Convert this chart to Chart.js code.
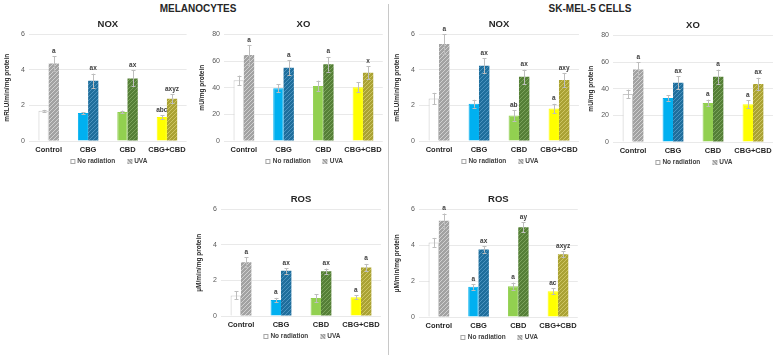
<!DOCTYPE html>
<html><head><meta charset="utf-8">
<script src="https://cdn.jsdelivr.net/npm/chart.js@4.4.1/dist/chart.umd.min.js"></script>
<style>
html,body{margin:0;padding:0;background:#fff;width:776px;height:355px;overflow:hidden;position:relative;font-family:'Liberation Sans',Arial,sans-serif}
.hdr{position:absolute;top:3px;line-height:12px;font-weight:bold;font-size:10px;color:#262626;transform:translateX(-50%);white-space:nowrap}
#divider{position:absolute;left:388px;top:4px;width:1px;height:351px;background:#c8c8c8}
canvas{position:absolute}
.lg{position:absolute;transform:translate(-50%,-50%);white-space:nowrap;font-weight:bold;font-size:6.5px;line-height:8px;color:#404040;display:flex;align-items:center}
.lg .it{display:flex;align-items:center}
.lg .it + .it{margin-left:12px}
.lg .bx{display:inline-block;width:5px;height:5px;box-sizing:border-box;margin-right:2px}
</style></head><body>
<div class="hdr" style="left:198px">MELANOCYTES</div>
<div class="hdr" style="left:590px">SK-MEL-5 CELLS</div>
<div id="divider"></div>
<canvas id="c1"></canvas><canvas id="c2"></canvas><canvas id="c3"></canvas>
<canvas id="c4"></canvas><canvas id="c5"></canvas><canvas id="c6"></canvas>
<script>
// ---------- DATA ----------
const categories = ['Control', 'CBG', 'CBD', 'CBG+CBD'];
const seriesNames = ['No radiation', 'UVA'];

// Melanocytes NOX
const melNoxNR = [1.70, 1.57, 1.63, 1.35];
const melNoxNRErr = [0.05, 0.05, 0.08, 0.10];
const melNoxNRLetters = ['', '', '', 'abc'];
const melNoxUVA = [4.36, 3.39, 3.52, 2.38];
const melNoxUVAErr = [0.42, 0.40, 0.45, 0.26];
const melNoxUVALetters = ['a', 'ax', 'ax', 'axyz'];

// Melanocytes XO
const melXoNR = [45.6, 39.6, 41.3, 40.4];
const melXoNRErr = [3.5, 3.0, 4.0, 3.7];
const melXoNRLetters = ['', '', '', ''];
const melXoUVA = [64.5, 55.0, 57.6, 51.3];
const melXoUVAErr = [7.5, 5.5, 5.5, 4.7];
const melXoUVALetters = ['a', 'a', 'a', 'x'];

// SK-MEL-5 NOX
const skNoxNR = [2.39, 2.10, 1.44, 1.83];
const skNoxNRErr = [0.32, 0.22, 0.30, 0.26];
const skNoxNRLetters = ['', '', 'ab', 'a'];
const skNoxUVA = [5.46, 4.23, 3.61, 3.43];
const skNoxUVAErr = [0.56, 0.43, 0.40, 0.40];
const skNoxUVALetters = ['a', 'ax', 'ax', 'axy'];

// SK-MEL-5 XO
const skXoNR = [36.0, 33.0, 29.3, 28.3];
const skXoNRErr = [3.3, 2.0, 2.5, 3.0];
const skXoNRLetters = ['', '', 'a', 'a'];
const skXoUVA = [54.5, 44.5, 49.0, 43.5];
const skXoUVAErr = [5.5, 4.8, 5.3, 4.7];
const skXoUVALetters = ['a', 'ax', 'a', 'ax'];

// Melanocytes ROS
const melRosNR = [1.16, 0.90, 1.01, 1.05];
const melRosNRErr = [0.22, 0.12, 0.22, 0.12];
const melRosNRLetters = ['', 'a', '', 'a'];
const melRosUVA = [3.03, 2.54, 2.52, 2.73];
const melRosUVAErr = [0.28, 0.15, 0.15, 0.20];
const melRosUVALetters = ['a', 'ax', 'ax', 'a'];

// SK-MEL-5 ROS
const skRosNR = [4.16, 1.68, 1.72, 1.44];
const skRosNRErr = [0.25, 0.16, 0.20, 0.16];
const skRosNRLetters = ['', 'a', 'a', 'ac'];
const skRosUVA = [5.37, 3.77, 5.01, 3.50];
const skRosUVAErr = [0.40, 0.18, 0.27, 0.17];
const skRosUVALetters = ['a', 'ax', 'ay', 'axyz'];

// ---------- STYLE ----------
const FONT = "'Liberation Sans', Arial, sans-serif";
Chart.defaults.font.family = FONT;
Chart.defaults.color = '#404040';

const nrFill = ['#ffffff', '#00b0f0', '#92d050', '#ffff00'];
const nrBorder = ['#c8c8c8', '#00b0f0', '#92d050', '#ffff00'];
const uvaBase = ['#a2a2a2', '#1f6e9c', '#557f37', '#aaa234'];
const uvaStripe = ['#d0d0d0', '#4b93bf', '#7aa25b', '#cdc562'];

function hatch(base, stripe) {
  const c = document.createElement('canvas');
  c.width = 4; c.height = 4;
  const g = c.getContext('2d');
  g.fillStyle = base; g.fillRect(0, 0, 4, 4);
  g.strokeStyle = stripe; g.lineWidth = 1;
  g.beginPath();
  g.moveTo(0, 4); g.lineTo(4, 0);
  g.moveTo(-1, 1); g.lineTo(1, -1);
  g.moveTo(3, 5); g.lineTo(5, 3);
  g.stroke();
  return g.createPattern(c, 'repeat');
}
const uvaFill = uvaBase.map((b, i) => hatch(b, uvaStripe[i]));

const errPlugin = {
  id: 'errbars',
  afterDatasetsDraw(chart) {
    const ctx = chart.ctx, y = chart.scales.y;
    chart.data.datasets.forEach((ds, di) => {
      const meta = chart.getDatasetMeta(di);
      meta.data.forEach((bar, i) => {
        const v = ds.data[i], e = ds.errors[i];
        const yt = y.getPixelForValue(v + e), yb = y.getPixelForValue(v - e);
        const x = Math.round(bar.x) + 0.5;
        ctx.save();
        ctx.strokeStyle = '#bdbdbd'; ctx.lineWidth = 1;
        ctx.beginPath();
        ctx.moveTo(x, yt); ctx.lineTo(x, yb);
        ctx.moveTo(x - 2, Math.round(yt) + 0.5); ctx.lineTo(x + 2, Math.round(yt) + 0.5);
        ctx.moveTo(x - 2, Math.round(yb) + 0.5); ctx.lineTo(x + 2, Math.round(yb) + 0.5);
        ctx.stroke();
        const L = ds.letters[i];
        if (L) {
          ctx.fillStyle = '#404040';
          ctx.font = 'bold 6.5px ' + FONT;
          ctx.textAlign = 'center'; ctx.textBaseline = 'bottom';
          ctx.fillText(L, bar.x, yt - 2);
        }
        ctx.restore();
      });
    });
  }
};

// HTML legend built from the chart's own datasets
const htmlLegend = {
  id: 'htmlLegend',
  afterUpdate(chart) {
    const cv = chart.canvas;
    const id = cv.id + '-legend';
    let box = document.getElementById(id);
    if (!box) { box = document.createElement('div'); box.id = id; box.className = 'lg'; document.body.appendChild(box); }
    box.innerHTML = '';
    chart.data.datasets.forEach((ds, i) => {
      const it = document.createElement('span'); it.className = 'it';
      const sw = document.createElement('span'); sw.className = 'bx';
      if (i === 0) { sw.style.background = '#ffffff'; sw.style.border = '1px solid #a6a6a6'; }
      else { sw.style.background = 'repeating-linear-gradient(45deg,#a2a2a2 0 1.6px,#d0d0d0 1.6px 2.6px)'; }
      it.appendChild(sw);
      it.appendChild(document.createTextNode(ds.label));
      box.appendChild(it);
    });
    const a = chart.chartArea;
    const L = parseFloat(cv.style.left), T = parseFloat(cv.style.top);
    box.style.left = (L + (a.left + a.right) / 2 + 1) + 'px';
    box.style.top = (T + a.bottom + 20) + 'px';
  }
};

const Y_W = 29;

function config(s) {
  return {
    type: 'bar',
    data: {
      labels: categories,
      datasets: [
        { label: seriesNames[0], data: s.nr, errors: s.nrErr, letters: s.nrLet,
          backgroundColor: nrFill, borderColor: nrBorder, borderWidth: 1 },
        { label: seriesNames[1], data: s.uva, errors: s.uvaErr, letters: s.uvaLet,
          backgroundColor: uvaFill, borderWidth: 0 }
      ]
    },
    options: {
      responsive: false, maintainAspectRatio: false, animation: false,
      layout: { padding: { left: 0, right: 0, top: 0, bottom: 2 } },
      datasets: { bar: { categoryPercentage: 0.52, barPercentage: 1.0 } },
      plugins: {
        tooltip: { enabled: false },
        legend: { display: false },
        title: { display: true, fullSize: false, text: s.title, color: '#262626',
                 font: { size: 9.5, weight: 'bold' }, padding: { top: 2, bottom: 4 } }
      },
      scales: {
        x: {
          grid: { display: false, drawTicks: false }, border: { display: false },
          ticks: { font: { size: 7.5, weight: 'bold' }, color: '#262626', padding: 4,
                   maxRotation: 0, autoSkip: false }
        },
        y: {
          min: 0, max: s.max,
          ticks: { stepSize: s.step, font: { size: 7 }, color: '#595959', padding: 4 },
          grid: { color: '#e3e3e3', drawTicks: false, lineWidth: 0.8 },
          border: { display: false },
          title: { display: true, text: s.yTitle, color: '#262626',
                   font: { size: 6.5, weight: 'bold' }, padding: { top: 3, bottom: 0 } },
          afterFit(sc) { sc.width = Y_W; }
        }
      }
    },
    plugins: [errPlugin, htmlLegend]
  };
}

function make(cv, s, L, T, W, H) {
  cv.width = W; cv.height = H;
  cv.style.left = L + 'px'; cv.style.top = T + 'px';
  cv.style.width = W + 'px'; cv.style.height = H + 'px';
  return new Chart(cv, config(s));
}

function build(s) {
  const cv = document.getElementById(s.id);
  const [bl, bt, br, bb] = s.box;
  let L = bl - Y_W, T = bt - 18, W = br - bl + Y_W + 3, H = bb - bt + 18 + 18;
  const ch = make(cv, s, L, T, W, H);
  const a = ch.chartArea;
  const nL = Math.round(L + bl - (L + a.left));
  const nT = Math.round(T + bt - (T + a.top));
  const nW = Math.round(W + (br - bl) - (a.right - a.left));
  const nH = Math.round(H + (bb - bt) - (a.bottom - a.top));
  ch.destroy();
  make(cv, s, nL, nT, nW, nH);
}

const panels = [
  { id: 'c1', box: [29, 34, 187, 141], title: 'NOX', yTitle: 'mRLU/min/mg protein', max: 6, step: 2,
    nr: melNoxNR, nrErr: melNoxNRErr, nrLet: melNoxNRLetters, uva: melNoxUVA, uvaErr: melNoxUVAErr, uvaLet: melNoxUVALetters },
  { id: 'c2', box: [224, 34, 383, 141], title: 'XO', yTitle: 'mU/mg protein', max: 80, step: 20,
    nr: melXoNR, nrErr: melXoNRErr, nrLet: melXoNRLetters, uva: melXoUVA, uvaErr: melXoUVAErr, uvaLet: melXoUVALetters },
  { id: 'c3', box: [419, 34, 579, 141], title: 'NOX', yTitle: 'mRLU/min/mg protein', max: 6, step: 2,
    nr: skNoxNR, nrErr: skNoxNRErr, nrLet: skNoxNRLetters, uva: skNoxUVA, uvaErr: skNoxUVAErr, uvaLet: skNoxUVALetters },
  { id: 'c4', box: [613, 35, 773, 142], title: 'XO', yTitle: 'mU/mg protein', max: 80, step: 20,
    nr: skXoNR, nrErr: skXoNRErr, nrLet: skXoNRLetters, uva: skXoUVA, uvaErr: skXoUVAErr, uvaLet: skXoUVALetters },
  { id: 'c5', box: [221, 209, 381, 316], title: 'ROS', yTitle: 'µM/min/mg protein', max: 6, step: 2,
    nr: melRosNR, nrErr: melRosNRErr, nrLet: melRosNRLetters, uva: melRosUVA, uvaErr: melRosUVAErr, uvaLet: melRosUVALetters },
  { id: 'c6', box: [419, 209, 578, 317], title: 'ROS', yTitle: 'µM/min/mg protein', max: 6, step: 2,
    nr: skRosNR, nrErr: skRosNRErr, nrLet: skRosNRLetters, uva: skRosUVA, uvaErr: skRosUVAErr, uvaLet: skRosUVALetters }
];
panels.forEach(build);
</script>
</body></html>
